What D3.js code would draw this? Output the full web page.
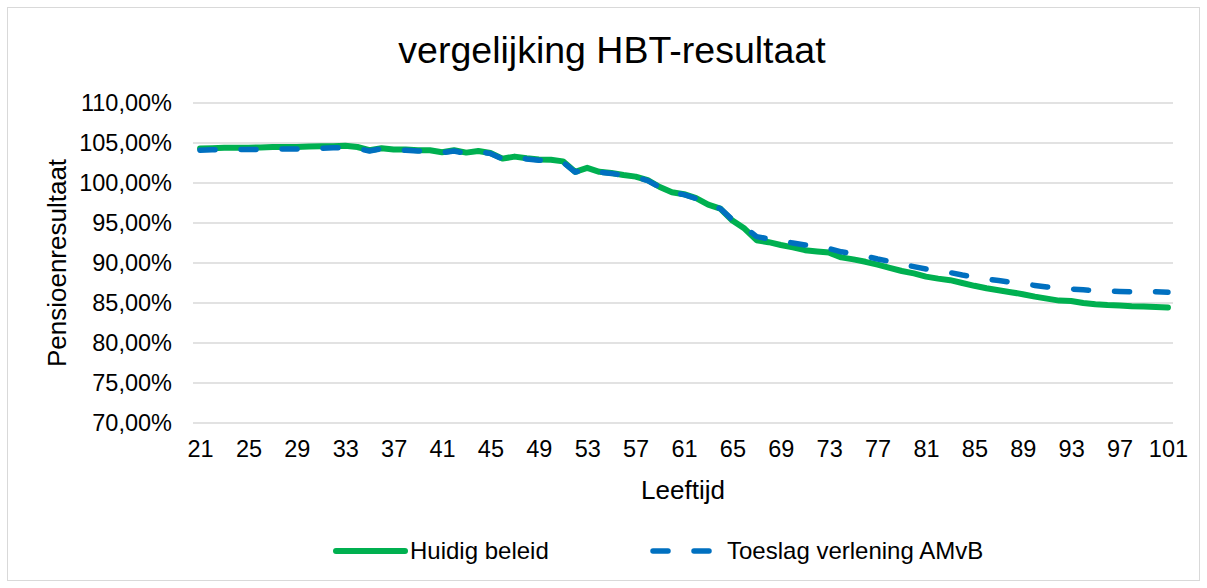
<!DOCTYPE html>
<html><head><meta charset="utf-8">
<script src="https://cdn.jsdelivr.net/npm/d3@7"></script>
<style>
html,body{margin:0;padding:0;background:#fff;}
svg text{font-family:"Liberation Sans",Arial,sans-serif;fill:#000;}
</style></head>
<body><svg id="c" width="1207" height="588"></svg>
<script>
const ages = d3.range(21, 102);
const huidigBeleid = [104.3,104.35,104.4,104.4,104.4,104.45,104.5,104.5,104.5,104.55,104.6,104.6,104.65,104.5,104.1,104.35,104.2,104.2,104.1,104.1,103.85,104.1,103.8,104.0,103.75,103.05,103.3,103.1,102.95,102.9,102.7,101.4,101.9,101.4,101.25,101.0,100.8,100.35,99.5,98.85,98.6,98.1,97.3,96.8,95.3,94.3,92.85,92.6,92.25,91.95,91.6,91.45,91.3,90.7,90.45,90.15,89.8,89.4,89.0,88.7,88.3,88.05,87.85,87.5,87.15,86.85,86.6,86.35,86.1,85.8,85.55,85.3,85.25,85.0,84.85,84.75,84.7,84.6,84.55,84.5,84.45];
const toeslagVerlening = [104.1,104.15,104.15,104.2,104.2,104.2,104.25,104.25,104.25,104.3,104.35,104.4,104.4,104.3,104.0,104.3,104.15,104.1,104.0,104.0,103.8,104.0,103.7,103.9,103.7,103.0,103.2,103.0,102.85,102.8,102.6,101.35,101.8,101.35,101.2,100.95,100.75,100.3,99.45,98.8,98.55,98.05,97.3,96.8,95.4,94.5,93.3,93.0,92.75,92.5,92.25,92.0,91.8,91.4,91.15,90.85,90.5,90.2,89.85,89.55,89.25,89.0,88.8,88.5,88.25,88.0,87.8,87.6,87.4,87.2,87.0,86.85,86.75,86.65,86.55,86.5,86.45,86.4,86.4,86.4,86.35];
const xTickLabels = [21,25,29,33,37,41,45,49,53,57,61,65,69,73,77,81,85,89,93,97,101];
const yTicks = [70,75,80,85,90,95,100,105,110];
const seriesNames = ["Huidig beleid","Toeslag verlening AMvB"];
const colors = ["#00B050","#0070C0"];

const svg = d3.select("#c");
svg.append("rect").attr("x",7.5).attr("y",7.5).attr("width",1192).attr("height",573)
  .attr("fill","#fff").attr("stroke","#d9d9d9").attr("stroke-width",1);

const x = d3.scalePoint().domain(ages).range([194,1174]).padding(0.5);
const y = d3.scaleLinear().domain([70,110]).range([423,103]);
const loc = d3.formatLocale({decimal:",",thousands:".",grouping:[3],currency:["€",""]});
const fmt = v => loc.format(".2f")(v) + "%";

// gridlines
svg.append("g").selectAll("line").data(yTicks).join("line")
  .attr("x1",193).attr("x2",1173).attr("y1",d=>y(d)).attr("y2",d=>y(d))
  .attr("stroke","#d9d9d9").attr("stroke-width",1.5);

// y axis
const ya = svg.append("g").attr("transform","translate(193,0)")
  .call(d3.axisLeft(y).tickValues(yTicks).tickFormat(fmt).tickSize(0).tickPadding(21));
ya.select(".domain").remove();
ya.selectAll("text").style("font-size","23.5px").style("font-family","Liberation Sans, Arial, sans-serif").attr("fill","#000");

// x axis
const xa = svg.append("g").attr("transform","translate(0,423)")
  .call(d3.axisBottom(x).tickValues(xTickLabels).tickSize(0).tickPadding(17));
xa.select(".domain").remove();
xa.selectAll("text").style("font-size","23.5px").style("font-family","Liberation Sans, Arial, sans-serif").attr("fill","#000");

// lines
const line = d3.line().x((d,i)=>x(ages[i])).y(d=>y(d));
svg.append("path").datum(huidigBeleid).attr("d",line).attr("fill","none")
  .attr("stroke",colors[0]).attr("stroke-width",6).attr("stroke-linejoin","round").attr("stroke-linecap","round");
svg.append("path").datum(toeslagVerlening).attr("d",line).attr("fill","none")
  .attr("stroke",colors[1]).attr("stroke-width",5.5).attr("stroke-linejoin","round").attr("stroke-linecap","round")
  .attr("stroke-dasharray","15,26");

// title
svg.append("text").attr("x",612).attr("y",63).attr("text-anchor","middle")
  .style("font-size","37.5px").text("vergelijking HBT-resultaat");
// axis titles
svg.append("text").attr("x",683).attr("y",499).attr("text-anchor","middle")
  .style("font-size","26px").text("Leeftijd");
svg.append("text").attr("transform","translate(66,263) rotate(-90)").attr("text-anchor","middle")
  .style("font-size","26px").text("Pensioenresultaat");

// legend
const lg = svg.append("g");
const legX = [[336,405,410],[653,712,727]];
seriesNames.forEach((n,i)=>{
  lg.append("line").attr("x1",legX[i][0]).attr("x2",legX[i][1]).attr("y1",551).attr("y2",551)
    .attr("stroke",colors[i]).attr("stroke-width",i?5.5:6).attr("stroke-linecap","round")
    .attr("stroke-dasharray",i?"15,26":null);
  lg.append("text").attr("x",legX[i][2]).attr("y",559).style("font-size","24px").text(n);
});
</script></body></html>
